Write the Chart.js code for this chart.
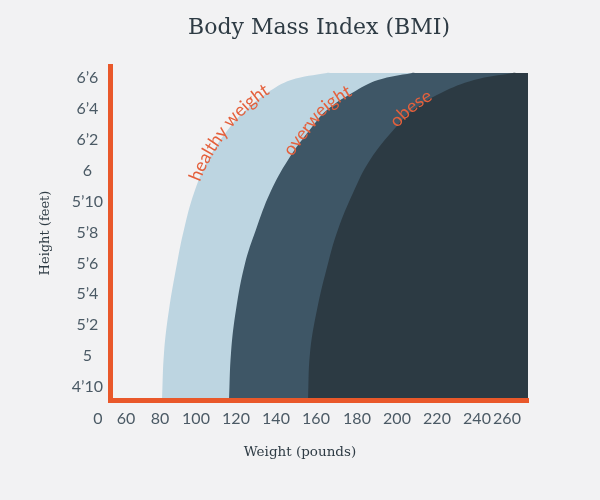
<!DOCTYPE html>
<html>
<head>
<meta charset="utf-8">
<script src="https://cdn.jsdelivr.net/npm/chart.js@4.4.0/dist/chart.umd.min.js"></script>
<style>
  html, body { margin: 0; padding: 0; background: #f2f2f3; }
  #wrap { width: 600px; height: 500px; }
</style>
</head>
<body>
<div id="wrap"><canvas id="bmi" width="600" height="500"></canvas></div>
<script>
// height in inches, weight in pounds where each band starts
const heights = [57.16, 60.2, 63.0, 66.0, 68.2, 70.56, 72.7, 74.83, 75.93, 77.03, 77.87, 78.33, 78.33, 78.33];
const healthyWeights = [83, 84, 86.5, 90.5, 94, 99, 106, 117, 125, 135.5, 147.5, 165.5, 167, 266];
const overWeights = [116.5, 117.5, 120, 124.5, 130, 137, 146, 158, 165.5, 178, 191, 208, 209.5, 266];
const obeseWeights = [156, 157, 160.5, 166, 171, 178.5, 187, 200, 208.5, 222.5, 239, 258.5, 260, 266];

const bandNames = ['healthy weight', 'overweight', 'obese'];

const yTickValues = [58, 60, 62, 64, 66, 68, 70, 72, 74, 76, 78];
const yTickLabels = ['4’10', '5', '5’2', '5’4', '5’6', '5’8', '5’10', '6', '6’2', '6’4', '6’6'];
// the x labels are not evenly spaced in the original
const xTickAt = [51, 65, 82, 100, 120, 140, 160, 180.5, 200.5, 220.5, 240.5, 255.5];
const xTickLabels = ['0', '60', '80', '100', '120', '140', '160', '180', '200', '220', '240', '260'];

const ORANGE = '#e9582a';
const INK = '#2e3b44';
const TICK = '#4b5a65';

function toPoints(weights) {
  return weights.map((w, i) => ({ x: w, y: heights[i] }));
}

// sample the drawn bezier curve of a line dataset
function sampleCurve(pts) {
  const out = [];
  for (let i = 0; i < pts.length - 1; i++) {
    const a = pts[i], b = pts[i + 1];
    const c1x = a.cp2x ?? a.x, c1y = a.cp2y ?? a.y;
    const c2x = b.cp1x ?? b.x, c2y = b.cp1y ?? b.y;
    for (let k = 0; k < 40; k++) {
      const t = k / 40, u = 1 - t;
      out.push({
        x: u*u*u*a.x + 3*u*u*t*c1x + 3*u*t*t*c2x + t*t*t*b.x,
        y: u*u*u*a.y + 3*u*u*t*c1y + 3*u*t*t*c2y + t*t*t*b.y
      });
    }
  }
  out.push({ x: pts[pts.length - 1].x, y: pts[pts.length - 1].y });
  return out;
}

const curveLabels = {
  id: 'curveLabels',
  afterDatasetsDraw(chart, args, opts) {
    const ctx = chart.ctx;
    const yScale = chart.scales.y;
    ctx.save();
    ctx.font = opts.font;
    ctx.fillStyle = opts.color;
    ctx.textAlign = 'center';
    ctx.textBaseline = 'alphabetic';
    chart.data.datasets.forEach((ds, di) => {
      const meta = chart.getDatasetMeta(di);
      const path = sampleCurve(meta.data);
      const len = [0];
      for (let i = 1; i < path.length; i++) {
        len.push(len[i - 1] + Math.hypot(path[i].x - path[i - 1].x, path[i].y - path[i - 1].y));
      }
      const yStart = yScale.getPixelForValue(opts.startAt[di]);
      let s0 = 0;
      for (let i = 0; i < path.length; i++) {
        if (path[i].y <= yStart) { s0 = len[i]; break; }
      }
      const text = ds.label;
      for (let c = 0; c < text.length; c++) {
        const ch = text[c];
        const w = ctx.measureText(ch).width;
        const s = s0 + ctx.measureText(text.slice(0, c)).width + w / 2;
        let j = 1;
        while (j < len.length - 1 && len[j] < s) j++;
        const p0 = path[j - 1], p1 = path[j];
        const f = (s - len[j - 1]) / ((len[j] - len[j - 1]) || 1);
        const ang = Math.atan2(p1.y - p0.y, p1.x - p0.x);
        const x = p0.x + (p1.x - p0.x) * f;
        const y = p0.y + (p1.y - p0.y) * f;
        ctx.save();
        ctx.translate(x, y);
        ctx.rotate(ang);
        ctx.fillText(ch, 0, opts.offset);
        ctx.restore();
      }
    });
    ctx.restore();
  }
};

const xTitle = {
  id: 'xTitle',
  afterDraw(chart) {
    const ctx = chart.ctx;
    ctx.save();
    ctx.font = '13.5px "DejaVu Serif"';
    ctx.fillStyle = INK;
    ctx.textAlign = 'center';
    ctx.textBaseline = 'middle';
    ctx.fillText('Weight (pounds)', chart.width / 2, 452);
    ctx.restore();
  }
};

const band = (label, weights, color, order) => ({
  label: label,
  data: toPoints(weights),
  backgroundColor: color,
  borderWidth: 0,
  pointRadius: 0,
  fill: 'start',
  tension: 0.4,
  order: order
});

new Chart(document.getElementById('bmi'), {
  type: 'line',
  data: {
    datasets: [
      band(bandNames[0], healthyWeights, '#bdd5e1', 3),
      band(bandNames[1], overWeights, '#3e5666', 2),
      band(bandNames[2], obeseWeights, '#2c3a43', 1)
    ]
  },
  options: {
    responsive: false,
    animation: false,
    layout: { padding: { left: 0, right: 72, top: 0, bottom: 0 } },
    plugins: {
      legend: { display: false },
      tooltip: { enabled: false },
      title: {
        display: true,
        text: 'Body Mass Index (BMI)',
        fullSize: false,
        color: INK,
        font: { family: 'DejaVu Serif', size: 22, weight: 'normal', lineHeight: 1.2 },
        padding: { top: 15, bottom: 24.6 }
      },
      curveLabels: {
        font: '18px Lato',
        color: '#e4603c',
        offset: 2,
        startAt: [71.3, 72.9, 74.8]
      }
    },
    scales: {
      x: {
        type: 'linear',
        min: 57,
        max: 266,
        grid: { display: false, drawTicks: false },
        border: { display: true, color: ORANGE, width: 5, z: 1 },
        afterBuildTicks: (axis) => { axis.ticks = xTickAt.map(v => ({ value: v })); },
        afterFit: (axis) => { axis.height = 100; },
        ticks: {
          autoSkip: false,
          maxRotation: 0,
          padding: 9,
          color: TICK,
          font: { family: 'Lato', size: 16 },
          callback: (v, i) => xTickLabels[i]
        }
      },
      y: {
        type: 'linear',
        min: 57.16,
        max: 78.78,
        grid: { display: false, drawTicks: false },
        border: { display: true, color: ORANGE, width: 5, z: 1 },
        afterBuildTicks: (axis) => { axis.ticks = yTickValues.map(v => ({ value: v })); },
        afterFit: (axis) => { axis.width = 110; },
        ticks: {
          autoSkip: false,
          crossAlign: 'center',
          padding: 7,
          color: TICK,
          font: { family: 'Lato', size: 16 },
          callback: (v, i) => yTickLabels[i]
        },
        title: {
          display: true,
          text: 'Height (feet)',
          color: INK,
          font: { family: 'DejaVu Serif', size: 13, lineHeight: 1.2 },
          padding: { top: 38, bottom: 0 }
        }
      }
    }
  },
  plugins: [curveLabels, xTitle]
});
</script>
</body>
</html>
